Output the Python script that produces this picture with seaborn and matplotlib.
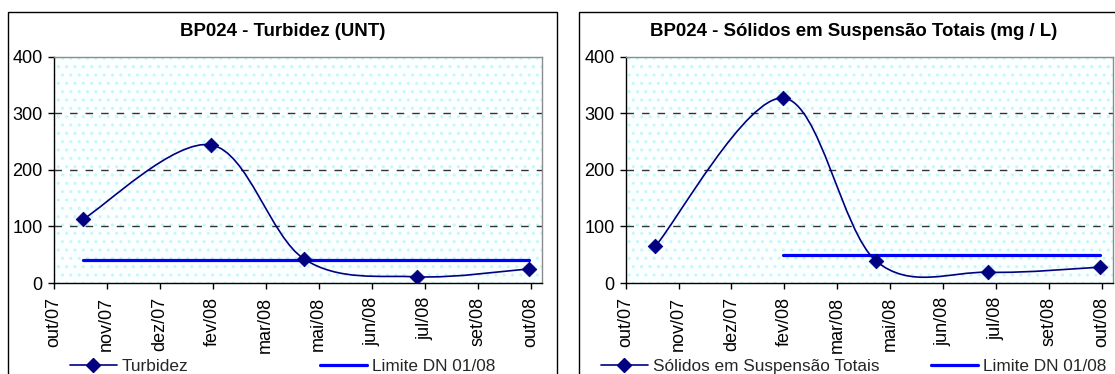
import matplotlib
matplotlib.use("Agg")
import matplotlib.pyplot as plt
import seaborn as sns
import pandas as pd
import numpy as np
from matplotlib.path import Path
from matplotlib.patches import PathPatch, Rectangle
from matplotlib.lines import Line2D
import matplotlib.dates as mdates

# ---- data ----
sample_dates = ["2007-11-02", "2008-02-09", "2008-04-21", "2008-07-17", "2008-10-12"]
turbidez = [113, 244, 42, 11, 25]
turbidez_limit = 40
ss_totais = [65, 327, 39, 19, 28]
ss_limit = 50
tick_labels = ["out/07", "nov/07", "dez/07", "fev/08", "mar/08",
               "mai/08", "jun/08", "jul/08", "set/08", "out/08"]
axis_start = "2007-10-10"
tick_step_days = 41

titles = ["BP024 - Turbidez (UNT)", "BP024 - Sólidos em Suspensão Totais (mg / L)"]
series_names = ["Turbidez", "Sólidos em Suspensão Totais"]
limit_name = "Limite DN 01/08"

sns.set_theme(style="white")
plt.rcParams["font.family"] = ["Liberation Sans", "DejaVu Sans"]
plt.rcParams["hatch.linewidth"] = 1.0

NAVY = "#000080"
BLUE = "#0000ff"
FS = 13
LFS = 12.4

fig = plt.figure(figsize=(11.15, 3.74), dpi=100)
W, H = 1115, 374


def smooth_path(x, y):
    pts = np.column_stack([x, y])
    n = len(pts)
    verts = [pts[0]]
    codes = [Path.MOVETO]
    for i in range(n - 1):
        p0 = pts[i - 1] if i > 0 else pts[i]
        p1 = pts[i]
        p2 = pts[i + 1]
        p3 = pts[i + 2] if i + 2 < n else pts[i + 1]
        c1 = p1 + (p2 - p0) / 6.0
        c2 = p2 - (p3 - p1) / 6.0
        verts += [c1, c2, p2]
        codes += [Path.CURVE4] * 3
    return Path(verts, codes)


panels = [
    dict(ax_px=(53.6, 542.0), box_px=(7.9, 556.7), vals=turbidez, limit=turbidez_limit,
         limit_from=0, name=series_names[0], title=titles[0],
         leg1=76.8, leg2=326.8),
    dict(ax_px=(625.7, 1113.0), box_px=(579.3, 1128.0), vals=ss_totais, limit=ss_limit,
         limit_from=1, name=series_names[1], title=titles[1],
         leg1=607.9, leg2=937.9),
]

dates = pd.to_datetime(sample_dates)
start = pd.Timestamp(axis_start)
ticks = [start + pd.Timedelta(days=tick_step_days * k) for k in range(len(tick_labels))]
xmin = mdates.date2num(ticks[0])
xmax = mdates.date2num(ticks[-1]) + 8.7

for p in panels:
    x0, x1 = p["ax_px"]
    ax = fig.add_axes([x0 / W, 1 - 283.0 / H, (x1 - x0) / W, (283.0 - 56.7) / H])
    ax.set_facecolor("white")
    bg = Rectangle((0, 0), 1, 1, transform=ax.transAxes, facecolor="#fbffff",
                   edgecolor="#c4f7f7", linewidth=0, hatch="..", zorder=0)
    ax.add_patch(bg)

    df = pd.DataFrame({"date": dates, "value": p["vals"]})
    xnum = mdates.date2num(df["date"])
    path = smooth_path(xnum, np.array(p["vals"], dtype=float))
    ax.add_patch(PathPatch(path, facecolor="none", edgecolor=NAVY, lw=1.2, zorder=4))

    lim_df = pd.DataFrame({"date": dates[p["limit_from"]:],
                           "value": [p["limit"]] * (len(dates) - p["limit_from"])})
    lim_df = lim_df.iloc[[0, -1]]
    sns.lineplot(data=lim_df, x="date", y="value", ax=ax, color=BLUE, lw=2.3,
                 zorder=3, legend=False)
    sns.scatterplot(data=df, x="date", y="value", ax=ax, marker="D", s=55,
                    color=NAVY, edgecolor=NAVY, zorder=5, legend=False)

    ax.set_xlim(xmin, xmax)
    ax.set_ylim(0, 400)
    ax.set_yticks([0, 100, 200, 300, 400])
    ax.set_xticks(ticks)
    ax.set_xticklabels(tick_labels, rotation=90)
    ax.set_xlabel("")
    ax.set_ylabel("")
    for yv in [100, 200, 300]:
        ax.axhline(yv, color="#333333", lw=1.0, ls=(0, (5.4, 5.8)), zorder=2)
    ax.grid(False)
    for s in ["left", "bottom"]:
        ax.spines[s].set_color("black")
        ax.spines[s].set_linewidth(1.0)
    for s in ["top", "right"]:
        ax.spines[s].set_color("#8c8c8c")
        ax.spines[s].set_linewidth(1.0)
    ax.tick_params(axis="both", which="major", direction="out", length=4, width=1,
                   color="black", labelsize=FS, labelcolor="black", left=True, bottom=True)
    ax.tick_params(axis="y", pad=4)
    ax.tick_params(axis="x", pad=6)

    # chart border
    bx0, bx1 = p["box_px"]
    fig.add_artist(Rectangle((bx0 / W, -0.2), (bx1 - bx0) / W, 1.2 - 12.3 / H,
                             transform=fig.transFigure, facecolor="none",
                             edgecolor="black", lw=1.0, clip_on=False))
    fig.text((bx0 + bx1) / 2 / W, 1 - 31.7 / H, p["title"], ha="center", va="center",
             fontsize=13.4, fontweight="bold", color="black")

    # legend entries
    h1 = Line2D([], [], color=NAVY, lw=1.2, marker="D", markersize=7)
    fig.legend(handles=[h1], labels=[p["name"]], loc="center left",
               bbox_to_anchor=(p["leg1"] / W - 0.006, 1 - 366.5 / H), frameon=False,
               fontsize=LFS, handlelength=2.7, handletextpad=0.3,
               borderaxespad=0, borderpad=0)
    h2 = Line2D([], [], color=BLUE, lw=2.3)
    fig.legend(handles=[h2], labels=[limit_name], loc="center left",
               bbox_to_anchor=(p["leg2"] / W - 0.006, 1 - 366.5 / H), frameon=False,
               fontsize=LFS, handlelength=2.7, handletextpad=0.3,
               borderaxespad=0, borderpad=0)

fig.savefig("out.png", dpi=100)
